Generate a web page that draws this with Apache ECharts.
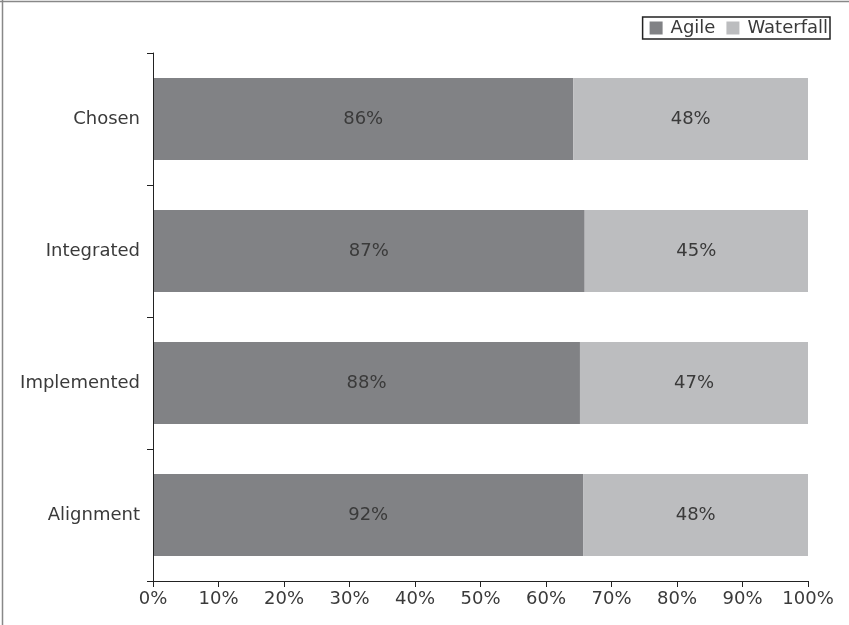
<!DOCTYPE html>
<html><head><meta charset="utf-8">
<script src="https://cdn.jsdelivr.net/npm/echarts@6/dist/echarts.min.js"></script>
<style>html,body{margin:0;padding:0;background:#fff}#c{width:849px;height:625px}</style>
</head><body><div id="c"></div>
<script>
const categories = ['Alignment', 'Implemented', 'Integrated', 'Chosen'];
const agile = [92, 88, 87, 86];
const waterfall = [48, 47, 45, 48];
const xTicks = [0, 10, 20, 30, 40, 50, 60, 70, 80, 90, 100];

const agileShare = agile.map((v, i) => v / (v + waterfall[i]) * 100);
const waterShare = waterfall.map((v, i) => v / (agile[i] + v) * 100);

const font = '"DejaVu Sans", sans-serif';
const txt = '#3a3a3a';
const chart = echarts.init(document.getElementById('c'));
chart.setOption({
  animation: false,
  textStyle: { fontFamily: font },
  graphic: [
    { type: 'line', shape: { x1: 0, y1: 1.5, x2: 849, y2: 1.5 }, style: { stroke: '#888', lineWidth: 1.5 } },
    { type: 'line', shape: { x1: 2.5, y1: 0, x2: 2.5, y2: 625 }, style: { stroke: '#888', lineWidth: 1.5 } }
  ],
  legend: {
    right: 19, top: 17,
    borderColor: '#222', borderWidth: 1.5, borderRadius: 0,
    padding: [2, 2, 2, 7],
    itemWidth: 13, itemHeight: 13, itemGap: 11,
    icon: 'rect',
    textStyle: { fontSize: 18, color: txt, fontFamily: font, padding: [0, 0, 0, 3] },
    data: ['Agile', 'Waterfall']
  },
  grid: { left: 153, right: 41, top: 53, bottom: 44, containLabel: false },
  xAxis: {
    type: 'value', min: 0, max: 100, interval: 10,
    axisLine: { show: true, lineStyle: { color: '#222', width: 1 } },
    axisTick: { show: true, length: 6, lineStyle: { color: '#222' } },
    splitLine: { show: false },
    axisLabel: { fontSize: 18, color: txt, margin: 9, fontFamily: font,
      formatter: v => xTicks.includes(v) ? v + '%' : '' }
  },
  yAxis: {
    type: 'category', data: categories, z: 5,
    axisLine: { show: true, lineStyle: { color: '#222', width: 1 } },
    axisTick: { show: true, length: 6, lineStyle: { color: '#222' } },
    axisLabel: { fontSize: 18, color: txt, margin: 13, fontFamily: font }
  },
  series: [
    {
      name: 'Agile', type: 'bar', stack: 'all', barCategoryGap: '38%',
      data: agileShare,
      itemStyle: { color: '#818285' },
      label: { show: true, position: 'inside', fontSize: 18, color: txt, fontFamily: font,
        formatter: p => agile[p.dataIndex] + '%' }
    },
    {
      name: 'Waterfall', type: 'bar', stack: 'all', barCategoryGap: '38%',
      data: waterShare,
      itemStyle: { color: '#bcbdbf' },
      label: { show: true, position: 'inside', fontSize: 18, color: txt, fontFamily: font,
        formatter: p => waterfall[p.dataIndex] + '%' }
    }
  ]
});
</script></body></html>
